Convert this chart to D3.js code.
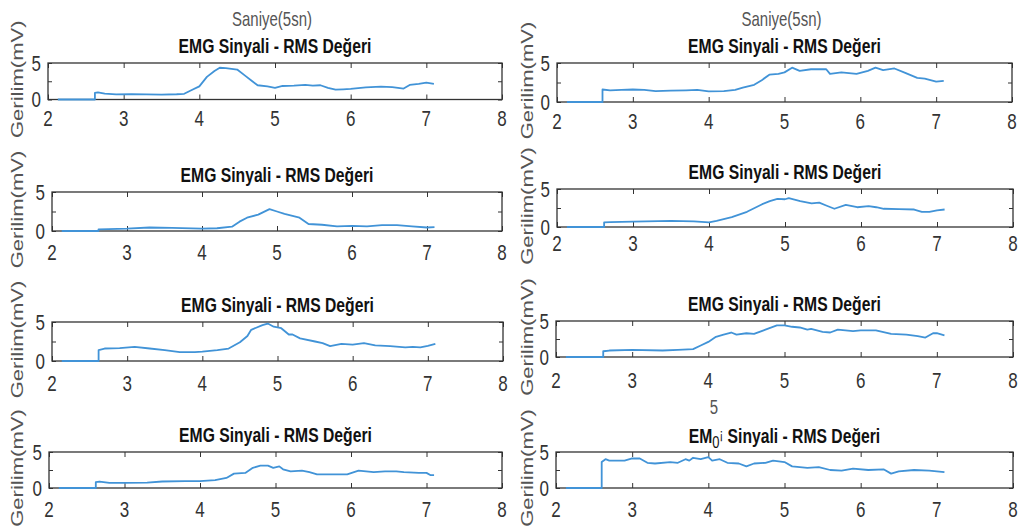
<!DOCTYPE html>
<html>
<head>
<meta charset="utf-8">
<script src="https://cdn.jsdelivr.net/npm/d3@7"></script>
<style>
  body { margin: 0; background: #fff; }
  svg { display: block; font-family: "Liberation Sans", Arial, sans-serif; }
</style>
</head>
<body>
<div id="chart"></div>
<script>
// RMS values, [seconds, mV]
const rmsL1 = [[2.13,0],[2.62,0],[2.62,0.9],[2.66,0.98],[2.75,0.8],[2.9,0.7],[3.1,0.72],[3.3,0.7],[3.5,0.68],[3.7,0.72],[3.8,0.78],[3.9,1.3],[4.0,1.8],[4.1,3.1],[4.2,3.9],[4.27,4.35],[4.35,4.3],[4.5,4.1],[4.6,3.3],[4.7,2.5],[4.77,1.95],[4.9,1.8],[5.0,1.6],[5.1,1.85],[5.25,1.9],[5.4,2.0],[5.5,1.9],[5.6,1.95],[5.7,1.6],[5.8,1.35],[5.9,1.4],[6.0,1.45],[6.2,1.65],[6.4,1.75],[6.55,1.7],[6.7,1.5],[6.78,2.0],[6.9,2.15],[7.0,2.3],[7.1,2.15]];
const rmsR1 = [[2.13,0],[2.6,0],[2.6,1.6],[2.7,1.5],[2.85,1.55],[3.0,1.6],[3.15,1.55],[3.3,1.4],[3.5,1.45],[3.7,1.5],[3.85,1.55],[4.0,1.35],[4.2,1.4],[4.35,1.55],[4.45,1.85],[4.6,2.2],[4.7,2.8],[4.8,3.5],[4.92,3.6],[5.0,3.8],[5.1,4.4],[5.2,4.0],[5.35,4.2],[5.55,4.2],[5.6,3.6],[5.75,3.8],[5.95,3.6],[6.1,4.0],[6.2,4.4],[6.3,4.1],[6.45,4.3],[6.6,3.7],[6.75,3.1],[6.85,3.0],[7.0,2.6],[7.1,2.7]];
const rmsL2 = [[2.13,0],[2.62,0],[2.62,0.2],[2.75,0.25],[3.0,0.3],[3.3,0.45],[3.6,0.4],[4.0,0.3],[4.2,0.35],[4.4,0.55],[4.5,1.2],[4.6,1.7],[4.75,2.1],[4.9,2.8],[5.0,2.5],[5.1,2.2],[5.3,1.7],[5.42,0.9],[5.6,0.8],[5.8,0.6],[6.0,0.65],[6.2,0.6],[6.4,0.75],[6.6,0.75],[6.8,0.6],[7.0,0.45],[7.1,0.5]];
const rmsR2 = [[2.13,0],[2.62,0],[2.62,0.6],[2.7,0.65],[3.0,0.7],[3.5,0.8],[3.8,0.75],[4.0,0.6],[4.1,0.8],[4.3,1.3],[4.5,2.0],[4.7,3.0],[4.8,3.4],[4.9,3.7],[5.0,3.65],[5.05,3.8],[5.2,3.4],[5.35,3.1],[5.45,3.2],[5.55,2.8],[5.65,2.4],[5.8,2.9],[5.95,2.6],[6.1,2.75],[6.2,2.6],[6.3,2.4],[6.5,2.35],[6.7,2.3],[6.8,2.0],[6.9,2.0],[7.0,2.2],[7.1,2.3]];
const rmsL3 = [[2.13,0],[2.62,0],[2.62,1.4],[2.7,1.6],[2.9,1.65],[3.1,1.8],[3.3,1.6],[3.5,1.4],[3.7,1.15],[3.9,1.15],[4.0,1.2],[4.2,1.4],[4.35,1.6],[4.5,2.4],[4.6,3.2],[4.65,4.0],[4.8,4.6],[4.87,4.8],[4.95,4.4],[5.05,4.2],[5.15,3.4],[5.2,3.4],[5.3,2.9],[5.5,2.5],[5.6,2.3],[5.7,1.9],[5.85,2.2],[6.0,2.1],[6.15,2.3],[6.3,2.0],[6.5,1.9],[6.7,1.75],[6.8,1.8],[6.9,1.75],[7.0,1.95],[7.1,2.2]];
const rmsR3 = [[2.13,0],[2.62,0],[2.62,0.8],[2.7,0.9],[3.0,1.0],[3.4,0.9],[3.6,1.0],[3.8,1.1],[3.9,1.6],[4.0,2.1],[4.1,2.8],[4.2,3.1],[4.3,3.4],[4.37,3.1],[4.5,3.3],[4.6,3.2],[4.75,3.8],[4.9,4.4],[5.0,4.4],[5.1,4.2],[5.2,4.1],[5.3,3.8],[5.35,3.9],[5.5,3.5],[5.6,3.4],[5.7,3.8],[5.9,3.6],[6.0,3.7],[6.2,3.7],[6.4,3.2],[6.6,3.1],[6.75,2.9],[6.85,2.7],[6.95,3.3],[7.0,3.3],[7.1,3.0]];
const rmsL4 = [[2.13,0],[2.62,0],[2.62,0.8],[2.67,0.9],[2.8,0.7],[3.0,0.7],[3.3,0.75],[3.5,0.9],[3.8,0.95],[4.0,0.95],[4.2,1.1],[4.35,1.4],[4.45,2.0],[4.6,2.1],[4.7,2.8],[4.8,3.1],[4.9,3.1],[4.97,2.8],[5.05,3.0],[5.1,2.6],[5.2,2.3],[5.35,2.4],[5.45,2.2],[5.55,1.9],[5.8,1.9],[5.95,1.9],[6.1,2.4],[6.3,2.2],[6.45,2.3],[6.6,2.3],[6.7,2.2],[6.9,2.1],[7.0,2.1],[7.05,1.8],[7.1,1.8]];
const rmsR4 = [[2.13,0],[2.6,0],[2.6,3.6],[2.65,4.0],[2.7,3.8],[2.9,3.8],[3.0,4.1],[3.1,4.1],[3.2,3.5],[3.3,3.4],[3.5,3.6],[3.6,3.5],[3.7,4.0],[3.75,3.8],[3.8,4.2],[3.9,4.0],[4.0,4.3],[4.05,3.8],[4.15,4.0],[4.25,3.5],[4.4,3.4],[4.5,3.0],[4.6,3.4],[4.75,3.5],[4.85,3.8],[5.0,3.6],[5.1,3.0],[5.3,2.8],[5.45,2.9],[5.6,2.5],[5.75,2.4],[5.9,2.7],[6.1,2.5],[6.3,2.6],[6.4,2.0],[6.5,2.3],[6.7,2.5],[6.9,2.4],[7.0,2.3],[7.1,2.2]];

const xTicks = [2, 3, 4, 5, 6, 7, 8];
const yTicks = [0, 2.5, 5];
const yTickLabels = [0, 5];
const titleText = "EMG Sinyali - RMS Değeri";
const yLabelText = "Gerilim(mV)";
const topLabelText = "Saniye(5sn)";

const width = 1024, height = 532;
const SY = 1.33; // the picture is stretched vertically, text too

// panel boxes: [left, right, top, bottom], plus gap to the x tick labels
const panels = [
  { data: rmsL1, box: [48, 502, 63, 99.5], lab: 19 },
  { data: rmsR1, box: [557, 1012, 63, 102], lab: 19 },
  { data: rmsL2, box: [52, 502, 192, 231], lab: 21 },
  { data: rmsR2, box: [557, 1013, 189, 227], lab: 16 },
  { data: rmsL3, box: [52, 503, 322, 361], lab: 22 },
  { data: rmsR3, box: [556, 1013, 321, 357], lab: 23 },
  { data: rmsL4, box: [49, 502, 452, 488], lab: 21 },
  { data: rmsR4, box: [556, 1013, 452, 488], lab: 21, glitch: true }
];

const svg = d3.select("#chart").append("svg")
  .attr("width", width)
  .attr("height", height);

function stext(sel, x, y, str, rot) {
  return sel.append("text")
    .attr("transform", `translate(${x},${y}) scale(1,${SY})` + (rot ? " rotate(-90)" : ""))
    .attr("text-anchor", "middle")
    .attr("dominant-baseline", "central")
    .text(str);
}

const line = d3.line().x(d => d[0]).y(d => d[1]);

panels.forEach((p, i) => {
  const [x0, x1, y0, y1] = p.box;
  const isLeft = i % 2 === 0;
  const x = d3.scaleLinear().domain([2, 8]).range([x0, x1]);
  const y = d3.scaleLinear().domain([0, 5]).range([y1, y0]);
  const g = svg.append("g");

  // ticks inside the box, all four sides
  const tick = 5;
  g.append("g").attr("transform", `translate(0,${y1})`)
    .call(d3.axisBottom(x).tickValues(xTicks).tickSizeInner(-tick).tickSizeOuter(0).tickFormat(""));
  g.append("g").attr("transform", `translate(0,${y0})`)
    .call(d3.axisTop(x).tickValues(xTicks).tickSizeInner(-tick).tickSizeOuter(0).tickFormat(""));
  g.append("g").attr("transform", `translate(${x0},0)`)
    .call(d3.axisLeft(y).tickValues(yTicks).tickSizeInner(-4).tickSizeOuter(0).tickFormat(""));
  g.append("g").attr("transform", `translate(${x1},0)`)
    .call(d3.axisRight(y).tickValues(yTicks).tickSizeInner(-4).tickSizeOuter(0).tickFormat(""));
  g.selectAll(".domain").remove();
  g.selectAll(".tick line").attr("stroke", "#333").attr("stroke-width", 1);

  g.append("rect")
    .attr("x", x0).attr("y", y0)
    .attr("width", x1 - x0).attr("height", y1 - y0)
    .attr("fill", "none")
    .attr("stroke", "#333")
    .attr("stroke-width", 1.3);

  g.append("path")
    .datum(p.data.map(d => [x(d[0]), y(d[1])]))
    .attr("d", line)
    .attr("fill", "none")
    .attr("stroke", "#4193d7")
    .attr("stroke-width", 1.8)
    .attr("stroke-linejoin", "round");

  // tick labels
  const tl = g.append("g").attr("fill", "#333").style("font-size", "17px");
  xTicks.forEach(v => stext(tl, x(v), y1 + p.lab, v));
  yTickLabels.forEach(v => stext(tl, x0 - 7, y(v), v).attr("text-anchor", "end"));

  // title
  const tt = stext(g, (x0 + x1) / 2, y0 - 17, "")
    .attr("font-weight", "bold").style("font-size", "15.7px").attr("fill", "#111");
  if (p.glitch) {
    tt.append("tspan").text("EM");
    tt.append("tspan").text("0").attr("font-weight", "normal").style("font-size", "13px").attr("dy", 5);
    tt.append("tspan").text("¡").attr("font-weight", "normal").style("font-size", "11px").attr("dy", -6);
    tt.append("tspan").text(titleText.slice(3)).attr("dy", 1);
  } else {
    tt.text(titleText);
  }

  // y label
  stext(g, isLeft ? 17 : 527, (y0 + y1) / 2 - 2, yLabelText, true)
    .style("font-size", "16.6px").attr("fill", "#555");

  if (i < 2) {
    stext(g, (x0 + x1) / 2 - 3, 19, topLabelText)
      .style("font-size", "15px").attr("fill", "#555");
  }
});

// stray tick label above the last title
stext(svg, 714, 407, "5").style("font-size", "15px").attr("fill", "#555");
</script>
</body>
</html>
